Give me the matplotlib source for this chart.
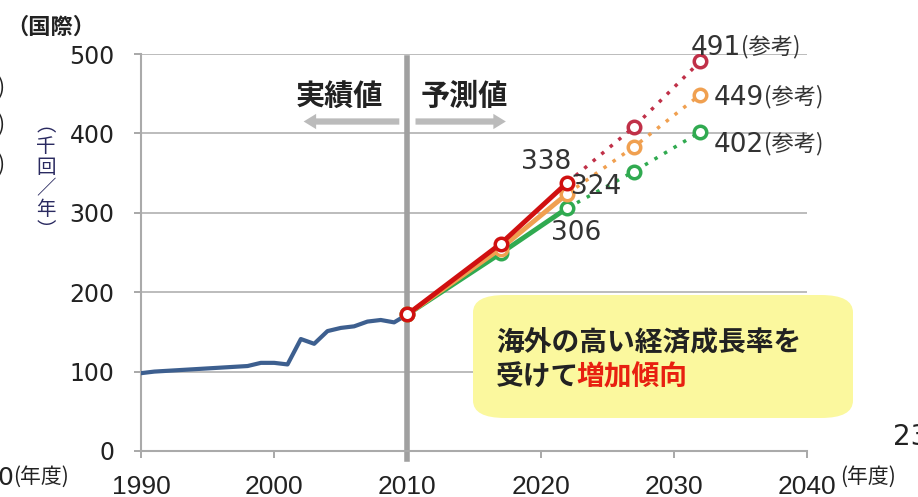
import numpy as np
import matplotlib.pyplot as plt
from matplotlib.patches import FancyBboxPatch

plt.rcParams['font.family'] = ['Noto Sans CJK JP', 'DejaVu Sans']

# actual values (thousand flights / year)
years_actual = [1990, 1991, 1992, 1993, 1994, 1995, 1996, 1997, 1998, 1999, 2000,
                2001, 2002, 2003, 2004, 2005, 2006, 2007, 2008, 2009, 2010]
actual = [98, 100, 101, 102, 103, 104, 105, 106, 107, 111, 111,
          109, 141, 135, 151, 155, 157, 163, 165, 162, 172]

# forecast cases
years_fc = [2010, 2017, 2022]
high_fc = [172, 261, 338]
mid_fc = [172, 255, 324]
low_fc = [172, 249, 306]

years_ref = [2022, 2027, 2032]
high_ref = [338, 408, 491]
mid_ref = [324, 383, 449]
low_ref = [306, 352, 402]

xticks = [1990, 2000, 2010, 2020, 2030, 2040]
yticks = [0, 100, 200, 300, 400, 500]

c_blue = "#3d5f8f"
c_red = "#d01010"
c_orange = "#f0a050"
c_green = "#30aa50"
c_red_dot = "#c03048"

num_font = ['DejaVu Sans', 'Noto Sans CJK JP']

fig = plt.figure(figsize=(9.18, 4.97), dpi=100)
ax = fig.add_axes([0.1536, 0.0926, 0.7255, 0.7987])

ax.set_xlim(1990, 2040)
ax.set_ylim(0, 500)
ax.set_xticks(xticks)
ax.set_yticks(yticks)
ax.tick_params(axis="both", colors="#999999", length=5, width=1.2, labelcolor="#222222")
ax.tick_params(axis="y", pad=14)
ax.tick_params(axis="x", pad=12)
for t in ax.get_yticklabels():
    t.set_fontfamily(num_font)
    t.set_fontsize(17)
for t in ax.get_xticklabels():
    t.set_fontfamily(['Liberation Sans'])
    t.set_fontsize(19)
for s in ["top", "right"]:
    ax.spines[s].set_visible(False)
for s in ["left", "bottom"]:
    ax.spines[s].set_color("#aaaaaa")
    ax.spines[s].set_linewidth(1.5)
ax.grid(axis="y", color="#b0b0b0", linewidth=1.2)
ax.set_axisbelow(True)

# divider between actual and forecast
ax.axvline(2010, ymin=-0.02, ymax=0.99, color="#a0a0a0", linewidth=4, clip_on=False, zorder=1)

ax.plot(years_actual, actual, color=c_blue, linewidth=3, zorder=3)

for yv, col in [(low_ref, c_green), (mid_ref, c_orange), (high_ref, c_red_dot)]:
    ax.plot(years_ref, yv, color=col, linewidth=2.5, linestyle=(0, (1, 2.2)), zorder=3)
    ax.plot(years_ref[1:], yv[1:], linestyle="none", marker="o", markersize=9,
            markerfacecolor="white", markeredgecolor=col, markeredgewidth=2.5, zorder=5)

for yv, col in [(low_fc, c_green), (mid_fc, c_orange), (high_fc, c_red)]:
    ax.plot(years_fc, yv, color=col, linewidth=3.5, zorder=4,
            marker="o", markersize=9, markerfacecolor="white",
            markeredgecolor=col, markeredgewidth=2.5)

# value labels
lab = dict(fontsize=19, color="#333333", zorder=6, family=num_font)
ax.text(2020.4, 364, "338", ha="center", va="center", **lab)
ax.text(2024.2, 333, "324", ha="center", va="center", **lab)
ax.text(2022.7, 275, "306", ha="center", va="center", **lab)


def ref_label(x, y, num):
    ax.text(x, y, num, ha="left", va="center", clip_on=False, **lab)
    ax.annotate("(参考)", xy=(x, y), xytext=(50, 1), textcoords="offset pixels",
                ha="left", va="center", fontsize=16, color="#333333", zorder=6,
                annotation_clip=False)


ref_label(2031.3, 508, "491")
ref_label(2033.0, 445, "449")
ref_label(2033.0, 386, "402")

# actual / forecast header
ax.text(2008.2, 447, "実績値", ha="right", va="center", fontsize=21, fontweight="bold", color="#222222")
ax.text(2011.0, 447, "予測値", ha="left", va="center", fontsize=21, fontweight="bold", color="#222222")
arrow = dict(arrowstyle="simple,head_width=1.1,head_length=0.9,tail_width=0.45",
             color="#bbbbbb", lw=0)
ax.annotate("", xy=(2002.0, 415), xytext=(2009.6, 415), arrowprops=arrow)
ax.annotate("", xy=(2017.6, 415), xytext=(2010.4, 415), arrowprops=arrow)

# yellow note box
box = FancyBboxPatch((473 / 918, 1 - 418 / 497), 380 / 918, 123 / 497,
                     boxstyle="round,pad=0,rounding_size=0.035",
                     transform=fig.transFigure, facecolor="#fbf89e", edgecolor="none", zorder=2)
fig.patches.append(box)
fig.text(496 / 918, 1 - 342 / 497, "海外の高い経済成長率を", fontsize=20, fontweight="bold",
         color="#222222", va="center")
fig.text(496 / 918, 1 - 377 / 497, "受けて", fontsize=20, fontweight="bold",
         color="#222222", va="center")
fig.text(576 / 918, 1 - 377 / 497, "増加傾向", fontsize=20, fontweight="bold",
         color="#e82010", va="center")

# surrounding texts
fig.text(6 / 918, 1 - 27 / 497, "（国際）", fontsize=16, fontweight="bold", color="#222222",
         va="center", ha="left")
fig.text(46 / 918, 1 - 178 / 497, "︵\n千\n回\n／\n年\n︶", fontsize=14, color="#2a2a60",
         va="center", ha="center", linespacing=1.0)
fig.text(-3 / 918, 1 - 478 / 497, "0", fontsize=18, color="#222222", va="center", ha="left",
         family=num_font)
fig.text(13 / 918, 1 - 477 / 497, "(年度)", fontsize=15, color="#222222", va="center", ha="left")
fig.text(840 / 918, 1 - 477 / 497, "(年度)", fontsize=15, color="#222222", va="center", ha="left")
fig.text(893 / 918, 1 - 437 / 497, "23", fontsize=20, color="#222222", va="center", ha="left",
         family=num_font)
for yy in [88, 125, 165]:
    fig.text(-3 / 918, 1 - yy / 497, ")", fontsize=15, color="#222222", va="center", ha="left")

fig.savefig("out.png", dpi=100)
